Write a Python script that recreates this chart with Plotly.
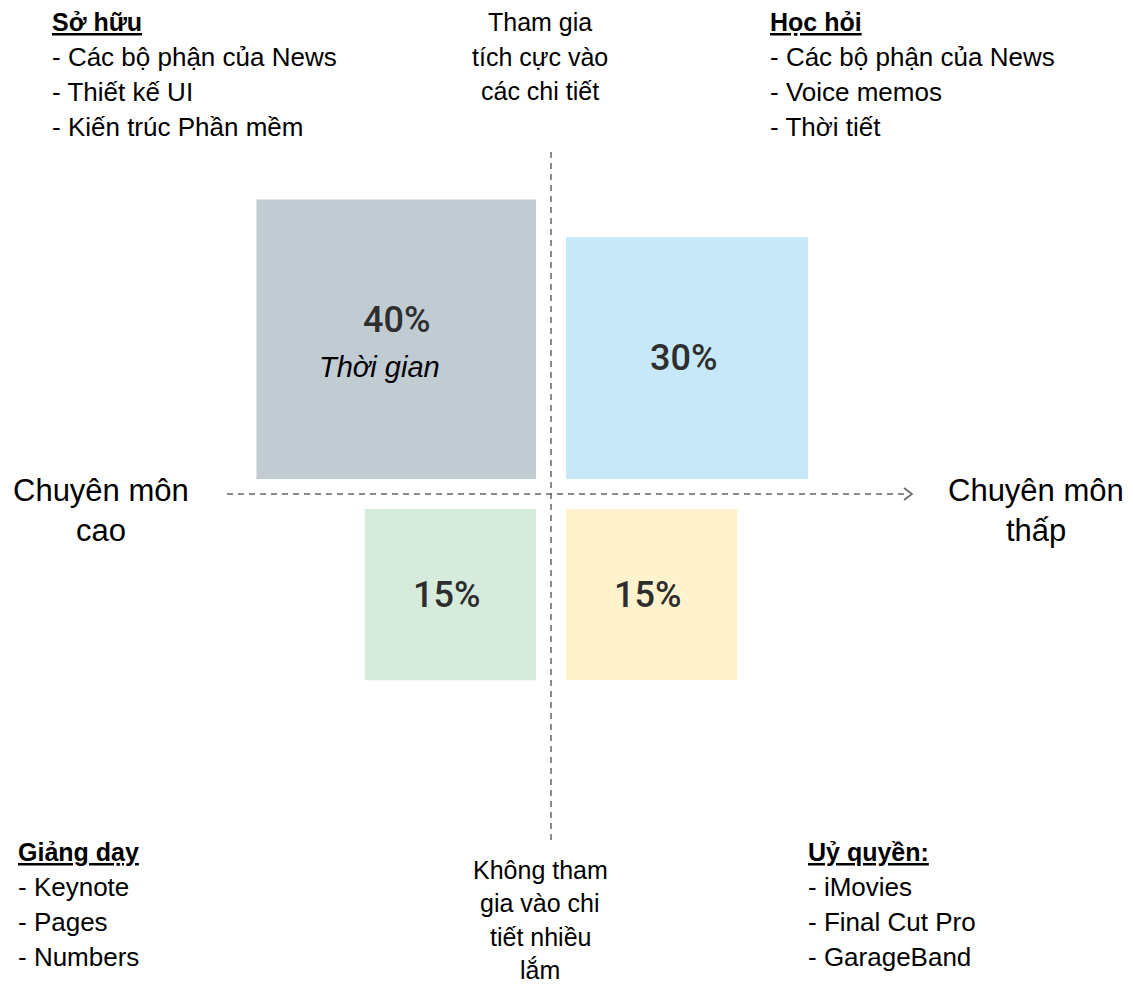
import math
import plotly.graph_objects as go

# ---------------- data ----------------
quadrant_titles = ["Sở hữu", "Học hỏi", "Giảng dạy", "Uỷ quyền:"]
quadrant_items = [
    ["- Các bộ phận của News", "- Thiết kế UI", "- Kiến trúc Phần mềm"],
    ["- Các bộ phận của News", "- Voice memos", "- Thời tiết"],
    ["- Keynote", "- Pages", "- Numbers"],
    ["- iMovies", "- Final Cut Pro", "- GarageBand"],
]
time_share = [40, 30, 15, 15]
share_labels = ["40%", "30%", "15%", "15%"]
share_sublabels = ["Thời gian", "", "", ""]
fill_colors = ["#c0cbd2", "#c6e8f7", "#d6ebdb", "#fef3cd"]
x_axis_labels = [["Chuyên môn", "cao"], ["Chuyên môn", "thấp"]]
y_axis_labels = [["Tham gia", "tích cực vào", "các chi tiết"],
                 ["Không tham", "gia vào chi", "tiết nhiều", "lắm"]]

# ---------------- layout constants ----------------
W, H = 1133, 988
OX, OY = 551, 494          # crossing of the two axes (pixel space)
K = 44.2                   # side = K * sqrt(percentage)  (area ~ share)
GAP = 15
x_sign = [-1, 1, -1, 1]
y_sign = [-1, -1, 1, 1]    # pixel y grows downward
FONT = "Liberation Sans, Arial, sans-serif"
PCT_FONT = dict(family="Roboto", size=36, color="#2e2e2e", weight=500)
LINE = 35

fig = go.Figure()
annotations = []

for i, p in enumerate(time_share):
    side = K * math.sqrt(p)
    xa, xb = OX + x_sign[i] * GAP, OX + x_sign[i] * (GAP + side)
    ya, yb = OY + y_sign[i] * GAP, OY + y_sign[i] * (GAP + side)
    fig.add_trace(go.Scatter(
        x=[xa, xb, xb, xa, xa], y=[ya, ya, yb, yb, ya],
        mode="lines", fill="toself", fillcolor=fill_colors[i],
        line=dict(width=0), hoverinfo="skip", showlegend=False))
    cx, cy = (xa + xb) / 2, (ya + yb) / 2
    if share_sublabels[i]:
        annotations.append(dict(x=cx, y=cy - 19, text=share_labels[i], showarrow=False,
                                font=PCT_FONT))
        annotations.append(dict(x=cx - 17, y=cy + 28, text="<i>" + share_sublabels[i] + "</i>",
                                showarrow=False, font=dict(family=FONT, size=29, color="#000")))
    else:
        annotations.append(dict(x=cx - 4, y=cy, text=share_labels[i], showarrow=False,
                                font=PCT_FONT))

# quadrant lists
list_pos = [(50, 22), (768, 22), (16, 852), (806, 852)]
for i, (lx, ly) in enumerate(list_pos):
    annotations.append(dict(x=lx, y=ly, xanchor="left", text="<b><u>" + quadrant_titles[i] + "</u></b>",
                            showarrow=False, font=dict(family=FONT, size=25, color="#000")))
    for j, it in enumerate(quadrant_items[i]):
        annotations.append(dict(x=lx, y=ly + LINE * (j + 1), xanchor="left", text=it,
                                showarrow=False, font=dict(family=FONT, size=26, color="#000")))

# axis end labels
for lbl, cx in zip(x_axis_labels, [101, 1036]):
    for j, t in enumerate(lbl):
        annotations.append(dict(x=cx, y=490 + 40 * j, text=t, showarrow=False,
                                font=dict(family=FONT, size=31, color="#000")))
for lbl, y0, step in zip(y_axis_labels, [22, 870], [34.5, 33.3]):
    for j, t in enumerate(lbl):
        annotations.append(dict(x=540, y=y0 + step * j, text=t, showarrow=False,
                                font=dict(family=FONT, size=25, color="#000")))

dash_line = dict(color="#666666", width=1.5, dash="6px,5px")
shapes = [
    dict(type="line", x0=OX, x1=OX, y0=152, y1=845, line=dash_line, layer="below"),
    dict(type="line", x0=227, x1=908, y0=OY, y1=OY, line=dash_line, layer="below"),
    dict(type="path", path=f"M {904},{OY-6} L {912},{OY} L {904},{OY+6}",
         line=dict(color="#666666", width=1.6)),
]

fig.update_layout(
    width=W, height=H, margin=dict(l=0, r=0, t=0, b=0),
    paper_bgcolor="white", plot_bgcolor="white",
    xaxis=dict(range=[0, W], visible=False, fixedrange=True),
    yaxis=dict(range=[H, 0], visible=False, fixedrange=True),
    annotations=annotations, shapes=shapes, showlegend=False,
)

fig.write_html("out.html", config={"displayModeBar": False},
               post_script="document.body.style.margin='0';")
